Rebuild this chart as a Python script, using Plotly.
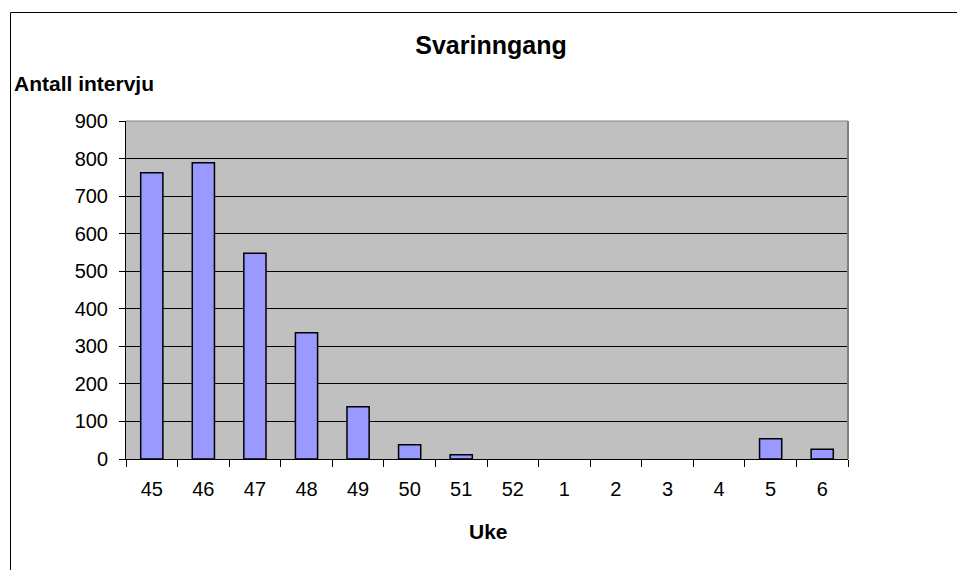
import plotly.graph_objects as go

weeks = ["45", "46", "47", "48", "49", "50", "51", "52", "1", "2", "3", "4", "5", "6"]
interviews = [762, 789, 548, 336, 139, 38, 11, 0, 0, 0, 0, 0, 54, 26]

# page body has an 8px margin, so the figure is drawn at (8, 8)
OFF = 8
L, R, T, B = 126, 848, 121, 459
W, H = 965, 570

def px(x):
    return (x - L) / (R - L)

def py(y):
    return (B - y) / (B - T)

outline = [1.5 if v > 0 else 0 for v in interviews]

fig = go.Figure()
fig.add_trace(go.Bar(
    x=weeks, y=interviews,
    marker=dict(color="#9999FF", line=dict(color="black", width=outline)),
))

font = "Liberation Sans, Arial, sans-serif"
fig.update_layout(
    width=W, height=H,
    margin=dict(l=L - OFF, r=W + OFF - R, t=T - OFF, b=H + OFF - B, pad=0),
    paper_bgcolor="white",
    plot_bgcolor="#C0C0C0",
    bargap=0.57,
    showlegend=False,
    font=dict(family=font, color="black", size=20),
    title=dict(text="<b>Svarinngang</b>", x=(491 - OFF) / W, xanchor="center",
               y=1 - (45 - OFF) / H, yanchor="middle", font=dict(size=25, family=font)),
    xaxis=dict(type="category", showline=True, linecolor="black", linewidth=1,
               ticks="outside", tickson="boundaries", ticklen=7, tickcolor="black",
               showgrid=False, tickfont=dict(size=20), ticklabelstandoff=12),
    yaxis=dict(range=[0, 900], dtick=100, showline=True, linecolor="black", linewidth=1,
               ticks="outside", ticklen=6, tickcolor="black",
               showgrid=True, gridcolor="black", gridwidth=1, zeroline=False,
               tickfont=dict(size=20), ticklabelstandoff=7),
    annotations=[
        dict(text="<b>Antall intervju</b>", xref="paper", yref="paper",
             x=px(12), y=py(83), xanchor="left", yanchor="middle", showarrow=False,
             font=dict(size=21, family=font)),
        dict(text="<b>Uke</b>", xref="paper", yref="paper",
             x=px(488), y=py(531), xanchor="center", yanchor="middle", showarrow=False,
             font=dict(size=21, family=font)),
    ],
    shapes=[
        dict(type="line", xref="paper", yref="paper", x0=0, x1=1, y0=1, y1=1,
             line=dict(color="#808080", width=1)),
        dict(type="line", xref="paper", yref="paper", x0=1, x1=1, y0=0, y1=1,
             line=dict(color="#808080", width=2)),
        dict(type="rect", xref="paper", yref="paper",
             x0=px(10.5), x1=px(1000), y0=py(12.5), y1=py(620),
             line=dict(color="black", width=1)),
    ],
)

fig.write_html("out.html")
